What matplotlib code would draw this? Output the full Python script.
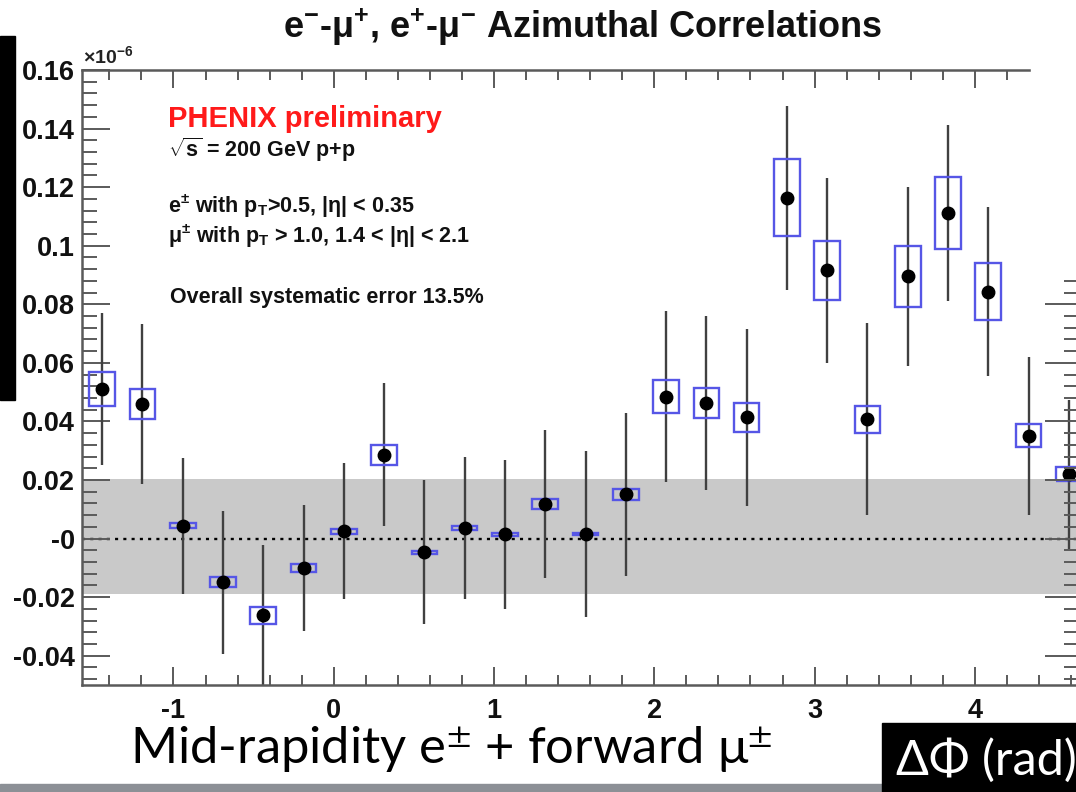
import numpy as np
import matplotlib
matplotlib.use("Agg")
import matplotlib.pyplot as plt
from matplotlib.patches import Rectangle
from matplotlib.ticker import FixedLocator, FixedFormatter, MultipleLocator, NullFormatter

# ---------------- data ----------------
n_bins = 25
phi_lo, phi_hi = -np.pi / 2, 3 * np.pi / 2
edges = np.linspace(phi_lo, phi_hi, n_bins + 1)
dphi = 0.5 * (edges[:-1] + edges[1:])

yield_vals = [0.0511, 0.0460, 0.0044, -0.0149, -0.0262, -0.0100, 0.0025, 0.0286,
              -0.0046, 0.0036, 0.0014, 0.0118, 0.0016, 0.0151, 0.0485, 0.0463,
              0.0414, 0.1164, 0.0916, 0.0407, 0.0895, 0.1111, 0.0843, 0.0351, 0.0220]
stat_err = [0.0260, 0.0273, 0.0232, 0.0244, 0.0241, 0.0216, 0.0233, 0.0244,
            0.0245, 0.0241, 0.0255, 0.0254, 0.0284, 0.0278, 0.0291, 0.0298,
            0.0303, 0.0314, 0.0316, 0.0328, 0.0305, 0.0301, 0.0289, 0.0269, 0.0254]
sys_err = [0.0059, 0.0051, 0.0008, 0.0018, 0.0029, 0.0014, 0.0008, 0.0034,
           0.0005, 0.0007, 0.0005, 0.0017, 0.0004, 0.0018, 0.0055, 0.0051,
           0.0049, 0.0131, 0.0101, 0.0046, 0.0103, 0.0122, 0.0097, 0.0040, 0.0023]
band_lo, band_hi = -0.0188, 0.0202

y_ticks = [0.16, 0.14, 0.12, 0.10, 0.08, 0.06, 0.04, 0.02, 0.0, -0.02, -0.04]
y_ticklabels = ["0.16", "0.14", "0.12", "0.1", "0.08", "0.06", "0.04", "0.02", "-0",
                "-0.02", "-0.04"]
x_ticks = [-1, 0, 1, 2, 3, 4]
x_ticklabels = ["-1", "0", "1", "2", "3", "4"]

# ---------------- style ----------------
plt.rcParams["mathtext.fontset"] = "custom"
plt.rcParams["mathtext.rm"] = "Liberation Sans:bold"
plt.rcParams["mathtext.it"] = "Liberation Sans:bold"
plt.rcParams["mathtext.bf"] = "Liberation Sans:bold"
plt.rcParams["axes.unicode_minus"] = False

W, H = 1076, 792
fig = plt.figure(figsize=(W / 100, H / 100), dpi=100)


def fy(py):
    return 1 - py / H


ax_left, ax_right, ax_top, ax_bot = 82, 1089, 70, 685
ax = fig.add_axes([ax_left / W, (H - ax_bot) / H, (ax_right - ax_left) / W,
                   (ax_bot - ax_top) / H])
ax.set_xlim(phi_lo, phi_hi)
ax.set_ylim(-0.05, 0.16)

# band, zero line
ax.axhspan(band_lo, band_hi, color="#c9c9c9", lw=0, zorder=0)
ax.axhline(0, color="black", ls=(0, (1.3, 2.2)), lw=1.7, zorder=1)

# statistical errors
ax.errorbar(dphi, yield_vals, yerr=stat_err, fmt="none", ecolor="#404040",
            elinewidth=1.7, capsize=0, zorder=2)

# systematic boxes
box_w = 0.16
for xi, yi, si in zip(dphi, yield_vals, sys_err):
    ax.add_patch(Rectangle((xi - box_w / 2, yi - si), box_w, 2 * si, fill=False,
                           ec="#5656e6", lw=1.7, zorder=3))

ax.plot(dphi, yield_vals, "o", color="black", ms=9, zorder=4)

# axes styling
for side in ["left", "bottom", "top", "right"]:
    ax.spines[side].set_color("#5a5a5a")
    ax.spines[side].set_linewidth(1.8)

ax.xaxis.set_major_locator(FixedLocator(x_ticks))
ax.xaxis.set_major_formatter(FixedFormatter(x_ticklabels))
ax.xaxis.set_minor_locator(MultipleLocator(0.2))
ax.yaxis.set_major_locator(FixedLocator(y_ticks))
ax.yaxis.set_major_formatter(FixedFormatter(y_ticklabels))
ax.yaxis.set_minor_locator(MultipleLocator(0.004))

ax.tick_params(which="both", direction="in", top=True, right=False,
               color="#5a5a5a", width=1.4)
ax.tick_params(axis="x", which="major", length=13, pad=9)
ax.tick_params(axis="x", which="minor", length=7)
ax.tick_params(axis="y", which="major", length=20, pad=5)
ax.tick_params(axis="y", which="minor", length=11)
for lab in ax.get_xticklabels() + ax.get_yticklabels():
    lab.set_fontfamily("Liberation Sans")
    lab.set_fontweight("bold")
    lab.set_fontsize(19.5)
    lab.set_color("#111111")

# right-hand ticks (longer, as in the reference)
ax2 = ax.twinx()
ax2.set_ylim(ax.get_ylim())
ax2.yaxis.set_major_locator(FixedLocator(y_ticks))
ax2.yaxis.set_minor_locator(MultipleLocator(0.004))
ax2.yaxis.set_major_formatter(NullFormatter())
ax2.tick_params(which="both", direction="in", color="#5a5a5a", width=1.4)
ax2.tick_params(which="major", length=32)
ax2.tick_params(which="minor", length=18)
for s in ax2.spines.values():
    s.set_visible(False)

# exponent label
fig.text(83 / W, fy(63), r"$\times$10$^{-6}$", fontsize=14, color="#222222",
         family="Liberation Sans", fontweight="bold", va="baseline")

# title
fig.text(582 / W, fy(38), r"e$^{-}$-μ$^{+}$, e$^{+}$-μ$^{-}$ Azimuthal Correlations",
         ha="center", va="baseline", fontsize=26, family="Liberation Sans",
         fontweight="bold", color="#111111")

# annotations
fig.text(168 / W, fy(127), "PHENIX preliminary", color="#ff1a1a", fontsize=21,
         family="Liberation Sans", fontweight="bold", va="baseline")
txt_kw = dict(fontsize=15.5, family="Liberation Sans", fontweight="bold",
              color="#111111", va="baseline")
fig.text(168 / W, fy(157), r"$\sqrt{s}$ = 200 GeV p+p", **txt_kw)
fig.text(168 / W, fy(213), r"e$^{\pm}$ with p$_{T}$>0.5, |η| < 0.35", **txt_kw)
fig.text(168 / W, fy(243), r"μ$^{\pm}$ with p$_{T}$ > 1.0, 1.4 < |η| < 2.1", **txt_kw)
fig.text(170 / W, fy(303), "Overall systematic error 13.5%", **txt_kw)

# slide elements
fig.add_artist(Rectangle((1031 / W, fy(272)), 1 - 1031 / W, 272 / H,
                         transform=fig.transFigure, color="white", zorder=10))
fig.add_artist(Rectangle((0, fy(400)), 15 / W, (400 - 36) / H,
                         transform=fig.transFigure, color="black", zorder=10))
fig.add_artist(Rectangle((0, 0), 1, 8 / H, transform=fig.transFigure,
                         color="#8c9096", zorder=10))
fig.add_artist(Rectangle((882 / W, 0), 1 - 882 / W, 69 / H,
                         transform=fig.transFigure, color="black", zorder=11))

fig.text(130 / W, fy(764), "Mid-rapidity e$^{\\pm}$ + forward μ$^{\\pm}$",
         fontsize=36.5, family="Lato", color="black",
         va="baseline", math_fontfamily="stixsans", zorder=12)
fig.text(896 / W, fy(775), "ΔΦ (rad)", fontsize=35, family="Lato",
         color="white", va="baseline", zorder=12)

fig.savefig("out.png", dpi=100)
